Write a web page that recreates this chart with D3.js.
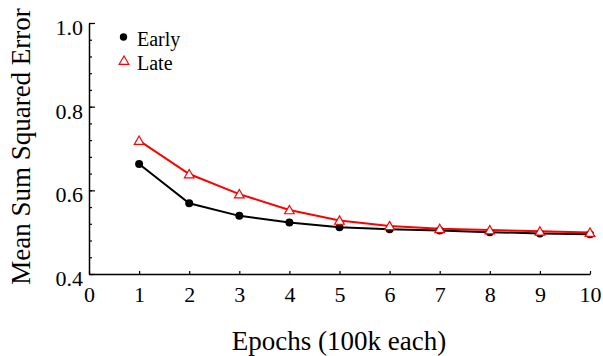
<!DOCTYPE html>
<meta charset="utf-8">
<style>
body { margin: 0; background: #fff; }
</style>
<body>
<svg width="603" height="356"></svg>
<script src="https://d3js.org/d3.v7.min.js"></script>
<script>
// epochs (x 100k)
var epochs = [1, 2, 3, 4, 5, 6, 7, 8, 9, 10];
var early = [0.663, 0.569, 0.539, 0.523, 0.512, 0.507, 0.504, 0.500, 0.497, 0.495];
var late  = [0.719, 0.639, 0.591, 0.553, 0.528, 0.515, 0.508, 0.505, 0.502, 0.499];
var xTicks = [0, 1, 2, 3, 4, 5, 6, 7, 8, 9, 10];
var yTicks = [0.4, 0.6, 0.8, 1.0];

var serif = "'Liberation Serif'";

var svg = d3.select("svg"),
    margin = {top: 23, right: 13, bottom: 82, left: 89},
    width = +svg.attr("width") - margin.left - margin.right,
    height = +svg.attr("height") - margin.top - margin.bottom;

var x = d3.scaleLinear().domain([0, 10]).range([0, width]),
    y = d3.scaleLinear().domain([0.4, 1.0]).range([height, 0]);

var g = svg.append("g")
    .attr("transform", "translate(" + margin.left + "," + margin.top + ")");

// minor y ticks (inside)
g.append("g")
    .call(d3.axisLeft(y).tickValues(d3.range(0.4, 1.0001, 0.04)).tickSize(-3).tickFormat(""))
    .call(function(a) { a.select(".domain").remove(); })
    .selectAll("line").attr("stroke-width", 1.2);

// major y ticks
var ya = g.append("g")
    .call(d3.axisLeft(y).tickValues(yTicks).tickSizeInner(-6).tickSizeOuter(0).tickPadding(6).tickFormat(d3.format(".1f")));
ya.select(".domain").attr("stroke-width", 1.5);
ya.selectAll("line").attr("stroke-width", 1.2);
ya.selectAll("text").style("font-size", "22px").style("font-family", serif).attr("dy", "0.52em");

var xa = g.append("g")
    .attr("transform", "translate(0," + height + ")")
    .call(d3.axisBottom(x).tickValues(xTicks).tickSizeInner(-3).tickSizeOuter(0).tickPadding(12).tickFormat(d3.format("d")));
xa.select(".domain").attr("stroke-width", 1.5);
xa.selectAll("line").attr("stroke-width", 1.2);
xa.selectAll("text").style("font-size", "22px").style("font-family", serif);

var line = d3.line()
    .x(function(d, i) { return x(epochs[i]); })
    .y(function(d) { return y(d); });

g.append("path").datum(early)
    .attr("fill", "none").attr("stroke", "#000").attr("stroke-width", 2)
    .attr("d", line);
g.append("path").datum(late)
    .attr("fill", "none").attr("stroke", "#ff0000").attr("stroke-width", 2)
    .attr("d", line);

g.selectAll(".early").data(early).enter().append("circle")
    .attr("cx", function(d, i) { return x(epochs[i]); })
    .attr("cy", function(d) { return y(d); })
    .attr("r", 4).attr("fill", "#000");

var tri = d3.symbol().type(d3.symbolTriangle).size(40);
g.selectAll(".late").data(late).enter().append("path")
    .attr("transform", function(d, i) { return "translate(" + x(epochs[i]) + "," + (y(d) + 1) + ")"; })
    .attr("d", tri)
    .attr("fill", "#fff").attr("stroke", "#ff0000").attr("stroke-width", 1.2);

// legend
svg.append("circle").attr("cx", 123.5).attr("cy", 37).attr("r", 3.7).attr("fill", "#000");
svg.append("text").attr("x", 137).attr("y", 45.5)
    .style("font-family", serif).style("font-size", "20px").text("Early");
svg.append("path").attr("transform", "translate(124,61.5)").attr("d", tri)
    .attr("fill", "#fff").attr("stroke", "#ff0000").attr("stroke-width", 1.2);
svg.append("text").attr("x", 137).attr("y", 69.5)
    .style("font-family", serif).style("font-size", "20px").text("Late");

// axis titles
svg.append("text")
    .attr("x", 339).attr("y", 350)
    .attr("text-anchor", "middle").style("font-family", serif).style("font-size", "27px")
    .text("Epochs (100k each)");
svg.append("text")
    .attr("transform", "translate(30,146.5) rotate(-90)")
    .attr("text-anchor", "middle").style("font-family", serif).style("font-size", "27px")
    .text("Mean Sum Squared Error");
</script>
</body>
